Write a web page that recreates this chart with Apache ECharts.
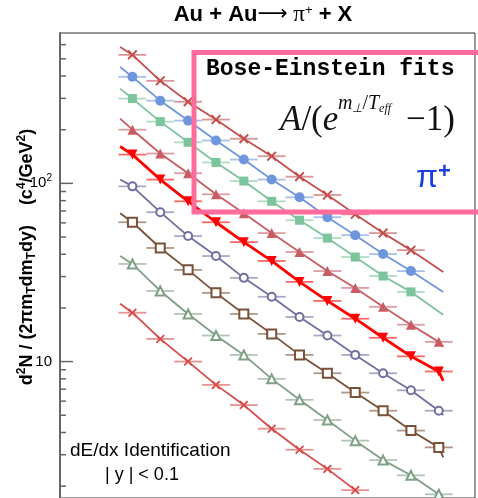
<!DOCTYPE html>
<html><head><meta charset="utf-8">
<script src="https://cdn.jsdelivr.net/npm/echarts@6/dist/echarts.min.js"></script>
<style>html,body{margin:0;padding:0;background:#fff}#c{width:478px;height:498px}</style>
</head><body><div id="c"></div>
<script>
// ---- data ----
const mtBins = [0.13, 0.18, 0.23, 0.28, 0.33, 0.38, 0.43, 0.48, 0.53, 0.58, 0.63, 0.68];
const binHalfWidth = 0.025;
const s1Vals = [526, 376, 287, 228, 178, 142, 109, 86, 67, 52.6, 42.2];
const s2Vals = [396, 291, 225, 174, 136, 105, 83.5, 64.6, 51.2, 40.1, 32.2];
const s3Vals = [299, 222, 170, 131, 103, 79.3, 62.1, 49.3, 38.6, 30.2, 24.6];
const s4Vals = [200, 147, 114, 86.8, 68.0, 52.6, 41.2, 32.2, 25.9, 20.3, 16.1, 12.9];
const s5Vals = [145, 105, 79.3, 60.5, 46.8, 36.7, 28.0, 21.9, 17.4, 13.6, 10.7, 8.8];
const s6Vals = [96.2, 68.9, 50.6, 39.1, 29.5, 23.1, 17.8, 14.0, 10.9, 8.6, 6.9, 5.3];
const s7Vals = [60.5, 43.4, 32.7, 24.3, 18.5, 14.3, 10.9, 8.6, 6.7, 5.3, 4.1, 3.3];
const s8Vals = [35.3, 24.9, 18.5, 14.0, 10.9, 8.0, 6.1, 4.7, 3.6, 2.8, 2.3, 1.8];
const s9Vals = [18.8, 13.4, 10.0, 7.4, 5.7, 4.2, 3.2, 2.5, 1.9];
const fitStartX = 0.108;
const fitEndX = 0.688;
const fitStartVals = [583, 450, 340, 231, 161, 105, 68, 39.1, 21.1];
const fitEndVals = [31.8, 24.6, 18.3, 12.1, 7.8, 5.0, 2.9, 1.75, null];
const majorTicks = [10, 100];
const minorTicks = [2, 3, 4, 5, 6, 7, 8, 9, 20, 30, 40, 50, 60, 70, 80, 90, 200, 300, 400, 500, 600];
const yMin = 1.716, yMax = 697.7;

// ---- styles ----
const STAR = 'path://M0,1.4L1.4,0L5,3.6L8.6,0L10,1.4L6.4,5L10,8.6L8.6,10L5,6.4L1.4,10L0,8.6L3.6,5Z';
const styles = [
  {color: '#c44e4e', symbol: STAR, size: 10, lw: 1.8},
  {color: '#6f96dc', symbol: 'circle', size: 10, lw: 1.8},
  {color: '#7cc49c', symbol: 'rect', size: 9, lw: 1.8},
  {color: '#c85c64', symbol: 'triangle', size: 10, lw: 1.8},
  {color: '#ff0000', symbol: 'triangle', rotate: 180, size: 10, lw: 2.8},
  {color: '#6e70a2', symbol: 'emptyCircle', size: 8, lw: 1.8},
  {color: '#7a5038', symbol: 'emptyRect', size: 9, lw: 1.8},
  {color: '#7f9f86', symbol: 'emptyTriangle', size: 9, lw: 1.8},
  {color: '#d84a4a', symbol: STAR, size: 9, lw: 1.8}
];
const allVals = [s1Vals, s2Vals, s3Vals, s4Vals, s5Vals, s6Vals, s7Vals, s8Vals, s9Vals];

const series = [];
allVals.forEach((vals, i) => {
  const st = styles[i];
  const pts = vals.map((v, k) => [mtBins[k], v]);
  const fit = [[fitStartX, fitStartVals[i]]].concat(pts);
  if (fitEndVals[i] != null) fit.push([fitEndX, fitEndVals[i]]);
  series.push({
    type: 'line', data: fit, showSymbol: false, silent: true, z: 2,
    lineStyle: {color: st.color, width: st.lw}, itemStyle: {color: st.color}
  });
  series.push({
    type: 'custom', data: pts, z: 3, silent: true,
    renderItem: function (params, api) {
      const x = api.value(0), y = api.value(1);
      const a = api.coord([x - binHalfWidth, y]);
      const b = api.coord([x + binHalfWidth, y]);
      return {type: 'line', shape: {x1: a[0], y1: a[1], x2: b[0], y2: b[1]},
        style: {stroke: st.color, lineWidth: 1.8, opacity: 0.6}};
    }
  });
  series.push({
    type: 'scatter', data: pts, z: 4, silent: true,
    symbol: st.symbol, symbolSize: st.size, symbolRotate: st.rotate || 0,
    itemStyle: {color: st.color, borderColor: st.color, borderWidth: st.symbol.indexOf('empty') === 0 ? 1.3 : 0, opacity: 1}
  });
});
// axis ticks (log-decade minor ticks) drawn through the y scale
function tickSeries(values, len) {
  return {
    type: 'custom', data: values.map(v => [0, v]), z: 5, silent: true,
    renderItem: function (params, api) {
      const p = api.coord([api.value(0), api.value(1)]);
      return {type: 'line', shape: {x1: p[0], y1: p[1], x2: p[0] + len, y2: p[1]},
        style: {stroke: '#666', lineWidth: 1.5}};
    }
  };
}
series.push(tickSeries(minorTicks, 6));
series.push(tickSeries(majorTicks, 13));

const SANS = 'Liberation Sans, Arial, sans-serif';
const SERIF = 'Liberation Serif, Times New Roman, serif';
const option = {
  backgroundColor: '#fff',
  animation: false,
  grid: {left: 60, right: 3, top: 33, bottom: -2, show: true, borderColor: '#333', borderWidth: 1},
  xAxis: {type: 'value', min: 0, max: 0.745, show: false},
  yAxis: {
    type: 'log', logBase: 10, min: yMin, max: yMax,
    axisLine: {show: true, lineStyle: {color: '#666', width: 2}},
    axisTick: {show: false}, splitLine: {show: false}, minorTick: {show: false},
    axisLabel: {
      margin: 8, color: '#000', fontFamily: SANS, fontSize: 15,
      formatter: function (v) {
        if (Math.abs(v - 100) < 1e-6) return '{n|10}{s|2}';
        if (Math.abs(v - 10) < 1e-6) return '{n|10}';
        return '';
      },
      rich: {n: {fontSize: 15, fontFamily: SANS, color: '#000'},
             s: {fontSize: 10, fontFamily: SANS, color: '#000', verticalAlign: 'top', padding: [0, 0, 10, 0]}}
    }
  },
  graphic: [
    {type: 'text', x: 263, y: 15, z: 100, style: {
      text: '{b|Au + Au}{a|⟶}{p| π}{s|+}{b| + X}', align: 'center', verticalAlign: 'middle',
      rich: {
        b: {fontFamily: SANS, fontWeight: 'bold', fontSize: 22, fill: '#000'},
        a: {fontFamily: 'DejaVu Sans', fontSize: 21, fill: '#000'},
        p: {fontFamily: SERIF, fontSize: 23, fill: '#000'},
        s: {fontFamily: SANS, fontSize: 13, fill: '#000', verticalAlign: 'top', padding: [0, 0, 8, 0]}
      }}},
    {type: 'rect', z: 100, shape: {x: 194, y: 52.5, width: 320, height: 159.5},
      style: {fill: 'none', stroke: '#ff6b9b', lineWidth: 5}},
    {type: 'text', x: 206, y: 69, z: 101, style: {
      text: 'Bose-Einstein fits', fontFamily: 'Liberation Mono, Courier New, monospace', fontWeight: 'bold',
      fontSize: 23, fill: '#000', align: 'left', verticalAlign: 'middle'}},
    {type: 'text', x: 280, y: 121, z: 101, style: {
      text: '{i|A}{n|/(}{i|e}', align: 'left', verticalAlign: 'middle',
      rich: {i: {fontFamily: SERIF, fontStyle: 'italic', fontSize: 35, fill: '#111'},
             n: {fontFamily: SERIF, fontSize: 35, fill: '#111'}}}},
    {type: 'text', x: 338, y: 104, z: 101, style: {
      text: '{i|m}{sb|⊥}{n|/}{i|T}{sb|eff}', align: 'left', verticalAlign: 'middle',
      rich: {i: {fontFamily: SERIF, fontStyle: 'italic', fontSize: 20, fill: '#111', lineHeight: 22},
             n: {fontFamily: SERIF, fontSize: 20, fill: '#111', lineHeight: 22},
             sb: {fontFamily: SERIF, fontStyle: 'italic', fontSize: 12, fill: '#111', verticalAlign: 'bottom', lineHeight: 22}}}},
    {type: 'text', x: 406, y: 121, z: 101, style: {
      text: '−1)', fontFamily: SERIF, fontSize: 35, fill: '#111', align: 'left', verticalAlign: 'middle'}},
    {type: 'text', x: 416, y: 178, z: 101, style: {
      text: '{p|π}{s|+}', align: 'left', verticalAlign: 'middle',
      rich: {p: {fontFamily: SANS, fontSize: 32, fill: '#1a3ee0', lineHeight: 34},
             s: {fontFamily: SANS, fontSize: 22, fontWeight: 'bold', fill: '#1a3ee0', verticalAlign: 'top', lineHeight: 34}}}},
    {type: 'text', x: 70, y: 451, z: 101, style: {
      text: 'dE/dx Identification', fontFamily: SANS, fontSize: 19, fill: '#000', align: 'left', verticalAlign: 'middle'}},
    {type: 'text', x: 105, y: 475, z: 101, style: {
      text: '| y | < 0.1', fontFamily: SANS, fontSize: 18, fill: '#000', align: 'left', verticalAlign: 'middle'}},
    {type: 'text', x: 27, y: 257, rotation: Math.PI / 2, z: 101, style: {
      text: '{t|d}{sp|2}{t|N / (2πm}{sb|T}{t|dm}{sb|T}{t|dy)    (c}{sp|4}{t|/GeV}{sp|2}{t|)}',
      align: 'center', verticalAlign: 'middle',
      rich: {t: {fontFamily: SANS, fontWeight: 'bold', fontSize: 18, fill: '#000', lineHeight: 22},
             sp: {fontFamily: SANS, fontWeight: 'bold', fontSize: 12, fill: '#000', verticalAlign: 'top', lineHeight: 22},
             sb: {fontFamily: SANS, fontWeight: 'bold', fontSize: 12, fill: '#000', verticalAlign: 'bottom', lineHeight: 22}}}}
  ],
  series: series
};
const chart = echarts.init(document.getElementById('c'), null, {renderer: 'canvas'});
chart.setOption(option);
</script>
</body></html>
